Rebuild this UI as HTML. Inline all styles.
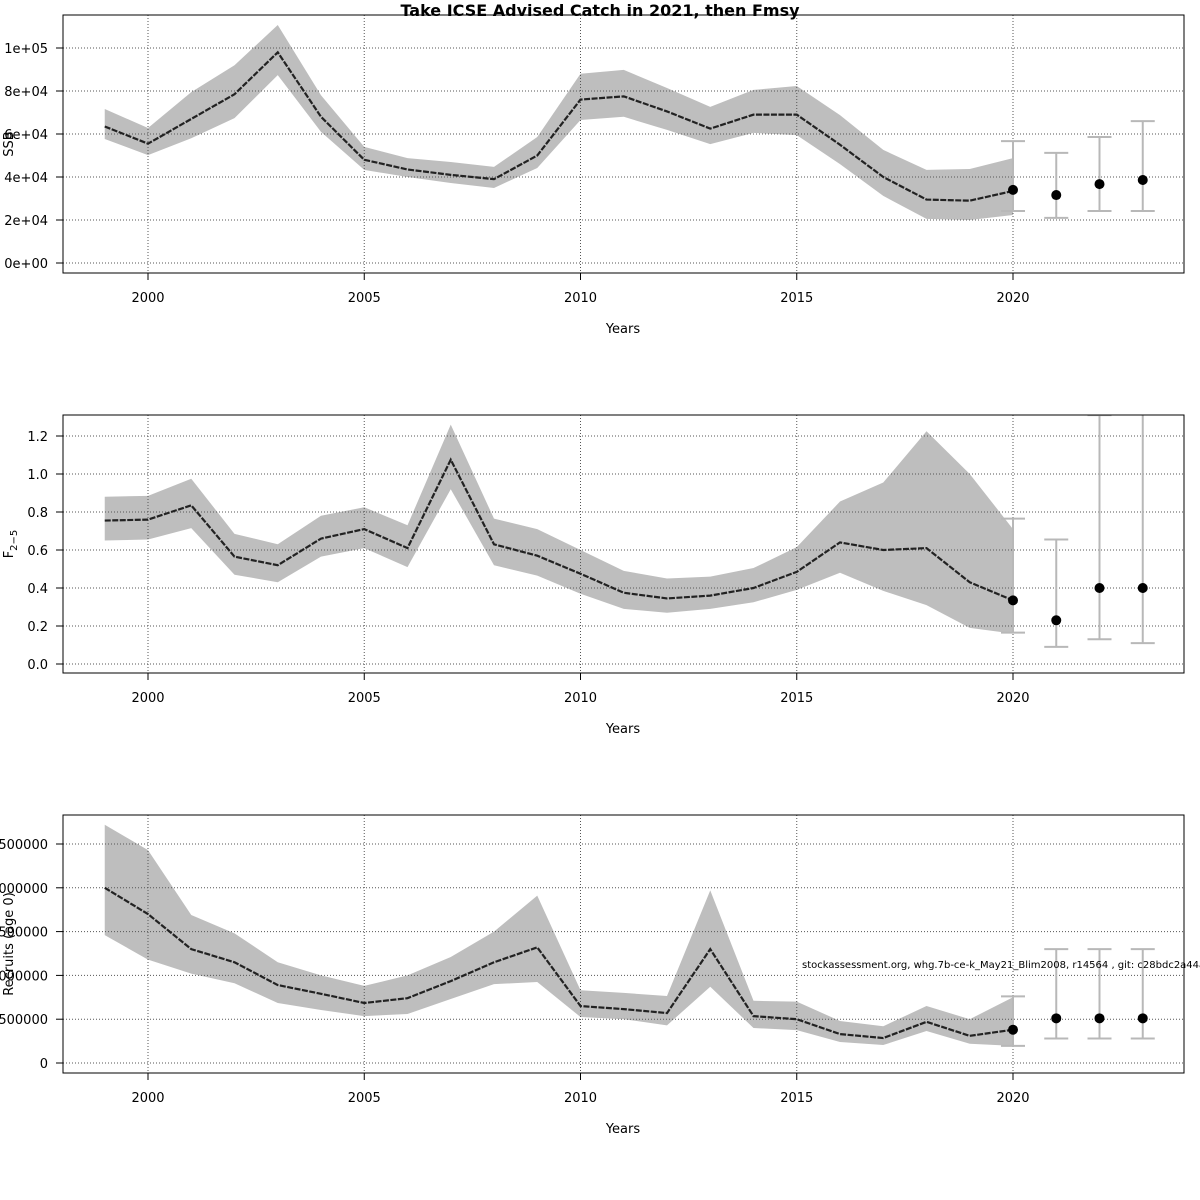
<!DOCTYPE html>
<html><head><meta charset="utf-8">
<style>
html,body{margin:0;padding:0;background:#fff;}
svg{display:block;font-family:"DejaVu Sans","Liberation Sans",sans-serif;}
</style></head>
<body>
<svg id="chart" width="1200" height="1200" viewBox="0 0 1200 1200">
<text x="600" y="16" text-anchor="middle" font-size="16" font-weight="bold">Take ICSE Advised Catch in 2021, then Fmsy</text>
</svg>
<script>
const years = [1999,2000,2001,2002,2003,2004,2005,2006,2007,2008,2009,2010,2011,2012,2013,2014,2015,2016,2017,2018,2019,2020];
const projYears = [2020,2021,2022,2023];
const xTicks = [2000,2005,2010,2015,2020];

const ssbMid = [63.5,55.5,67,78.5,98,68,48,43.5,41,39,50,76,77.5,70.5,62.5,69,69,55,40,29.5,29,33.5];
const ssbHi = [71.6,62.8,79.5,92,110.7,78,54,48.8,47,44.7,58.6,88,89.8,81.4,72.6,80.5,82.3,68.8,52.6,43.3,43.7,48.8];
const ssbLo = [57.7,50.2,58,67.4,87.4,61,43.3,40,37.2,34.9,44.2,66.5,68,61.9,55.3,60.5,59.5,46,31.2,20.5,20,22.3];
const ssbProj = [34,31.6,36.7,38.6];
const ssbProjHi = [56.7,51.2,58.6,66];
const ssbProjLo = [24.2,21,24.2,24.2];
const ssbTicks = [0,20,40,60,80,100];
const ssbTickLabels = ["0e+00","2e+04","4e+04","6e+04","8e+04","1e+05"];

const fMid = [0.755,0.76,0.835,0.565,0.52,0.66,0.71,0.61,1.075,0.63,0.57,0.475,0.375,0.345,0.36,0.40,0.485,0.64,0.60,0.61,0.43,0.335];
const fHi = [0.88,0.885,0.975,0.685,0.63,0.78,0.825,0.73,1.26,0.765,0.71,0.60,0.49,0.45,0.46,0.505,0.615,0.855,0.955,1.225,1.0,0.71];
const fLo = [0.65,0.655,0.715,0.47,0.43,0.565,0.61,0.51,0.92,0.52,0.465,0.37,0.29,0.27,0.29,0.325,0.39,0.48,0.385,0.31,0.19,0.16];
const fProj = [0.335,0.23,0.40,0.40];
const fProjHi = [0.765,0.655,1.31,1.6];
const fProjLo = [0.165,0.09,0.13,0.11];
const fTicks = [0,0.2,0.4,0.6,0.8,1.0,1.2];
const fTickLabels = ["0.0","0.2","0.4","0.6","0.8","1.0","1.2"];

const recMid = [2.0,1.70,1.30,1.15,0.89,0.79,0.685,0.74,0.935,1.15,1.32,0.65,0.615,0.57,1.30,0.535,0.50,0.33,0.285,0.47,0.31,0.38];
const recHi = [2.72,2.43,1.69,1.48,1.15,1.0,0.88,1.0,1.21,1.50,1.91,0.83,0.80,0.765,1.97,0.71,0.70,0.48,0.42,0.65,0.50,0.75];
const recLo = [1.46,1.18,1.02,0.91,0.685,0.605,0.535,0.56,0.73,0.90,0.925,0.525,0.50,0.43,0.87,0.40,0.375,0.24,0.205,0.365,0.22,0.195];
const recProj = [0.38,0.51,0.51,0.51];
const recProjHi = [0.76,1.30,1.30,1.30];
const recProjLo = [0.195,0.28,0.28,0.28];
const recTicks = [0,0.5,1.0,1.5,2.0,2.5];
const recTickLabels = ["0","500000","1000000","1500000","2000000","2500000"];

const NS='http://www.w3.org/2000/svg';
const svg=document.getElementById('chart');
function mk(tag,attrs,parent){const e=document.createElementNS(NS,tag);for(const k in attrs)e.setAttribute(k,attrs[k]);(parent||svg).appendChild(e);return e;}
const xScale = y => 148 + (y-2000)*43.25;

function panel(key, top, y0px, pxPerUnit, mid, hi, lo, proj, projHi, projLo, ticks, tickLabels, ylabel){
  const g=mk('g',{});
  
  
  const L=63,R=1184,T=top,B=top+258;
  const ys = v => y0px - v*pxPerUnit;
  const cid='clip-'+key;
  const cp=mk('clipPath',{id:cid},g); mk('rect',{x:L,y:T,width:R-L,height:B-T},cp);
  const band = years.map((y,i)=>xScale(y)+','+ys(hi[i])).concat(years.slice().reverse().map((y,j)=>{const i=years.length-1-j;return xScale(y)+','+ys(lo[i]);})).join(' ');
  const poly=mk('polygon',{points:band,fill:'#bebebe',stroke:'none','clip-path':'url(#'+cid+')'},g);
  
  
  const gridG=mk('g',{stroke:'#555','stroke-width':1,'stroke-dasharray':'1,2'},g);
  xTicks.forEach(t=>mk('line',{x1:xScale(t),x2:xScale(t),y1:T,y2:B},gridG));
  ticks.forEach(t=>mk('line',{x1:L,x2:R,y1:ys(t),y2:ys(t)},gridG));
  const line=mk('polyline',{points:years.map((y,i)=>xScale(y)+','+ys(mid[i])).join(' '),fill:'none',stroke:'#222','stroke-width':2.2,'stroke-dasharray':'6,1.5'},g);
  
  
  const eg=mk('g',{stroke:'#b8b8b8','stroke-width':2,'clip-path':'url(#'+cid+')'},g);
  projYears.forEach((y,i)=>{
    const x=xScale(y);
    mk('line',{x1:x,x2:x,y1:ys(projHi[i]),y2:ys(projLo[i])},eg);
    mk('line',{x1:x-12,x2:x+12,y1:ys(projHi[i]),y2:ys(projHi[i])},eg);
    mk('line',{x1:x-12,x2:x+12,y1:ys(projLo[i]),y2:ys(projLo[i])},eg);
  });
  projYears.forEach((y,i)=>{
    const c=mk('circle',{cx:xScale(y),cy:ys(proj[i]),r:5,fill:'#000'},g);
    
    
  });
  const box=mk('rect',{x:L,y:T,width:R-L,height:B-T,fill:'none',stroke:'#000','stroke-width':1},g);
  
  
  xTicks.forEach(t=>{
    mk('line',{x1:xScale(t),x2:xScale(t),y1:B,y2:B+7,stroke:'#000'},g);
    const tx=mk('text',{x:xScale(t),y:B+29,'text-anchor':'middle','font-size':13},g);
    tx.textContent=t;
    
    
  });
  ticks.forEach((t,i)=>{
    mk('line',{x1:L,x2:L-7,y1:ys(t),y2:ys(t),stroke:'#000'},g);
    const tx=mk('text',{x:48,y:ys(t)+5,'text-anchor':'end','font-size':13},g);
    tx.textContent=tickLabels[i];
    
    
  });
  const xt=mk('text',{x:623,y:B+60,'text-anchor':'middle','font-size':13},g);
  xt.textContent='Years';
  
  
  const yt=mk('text',{x:0,y:0,'text-anchor':'middle','font-size':13,transform:'translate(13,'+(T+129)+') rotate(-90)'},g);
  
  
  if(Array.isArray(ylabel)){
    yt.appendChild(document.createTextNode(ylabel[0]));
    const s=mk('tspan',{'font-size':10,dy:4},yt); s.textContent=ylabel[1];
  } else yt.textContent=ylabel;
}
panel('ssb',15,263,2.15,ssbMid,ssbHi,ssbLo,ssbProj,ssbProjHi,ssbProjLo,ssbTicks,ssbTickLabels,'SSB');
panel('fbar',415,664,190,fMid,fHi,fLo,fProj,fProjHi,fProjLo,fTicks,fTickLabels,['F','2−5']);
panel('recruits',815,1063,87.6,recMid,recHi,recLo,recProj,recProjHi,recProjLo,recTicks,recTickLabels,'Recruits (age 0)');
const note=mk('text',{x:802,y:968,'font-size':10});
note.textContent='stockassessment.org, whg.7b-ce-k_May21_Blim2008, r14564 , git: c28bdc2a44ac';


</script>
</body></html>
